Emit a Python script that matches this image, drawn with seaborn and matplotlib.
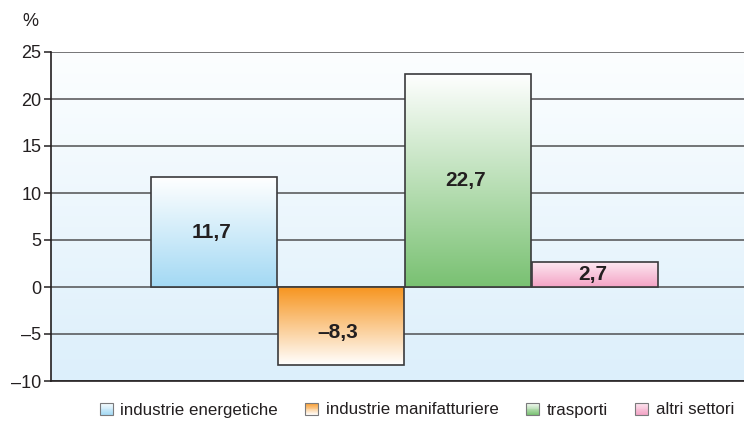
import numpy as np
import pandas as pd
import matplotlib
matplotlib.use("Agg")
import matplotlib.pyplot as plt
import matplotlib.colors as mcolors
from matplotlib.patches import Rectangle, Patch
from matplotlib.legend_handler import HandlerBase
import seaborn as sns

categories = ["industrie energetiche", "industrie manifatturiere", "trasporti", "altri settori"]
values = [11.7, -8.3, 22.7, 2.7]
value_labels = ["11,7", "–8,3", "22,7", "2,7"]
yticks = [-10, -5, 0, 5, 10, 15, 20, 25]
ytick_labels = ["–10", "–5", "0", "5", "10", "15", "20", "25"]
# gradient colours (top, bottom)
grads = [("#ffffff", "#a3d9f4"),
         ("#f7941d", "#ffffff"),
         ("#ffffff", "#79c172"),
         ("#fdeaf2", "#f3a3c5")]

sns.set_theme(style="white")
plt.rcParams["font.family"] = ["Liberation Sans", "DejaVu Sans"]
TXT = "#231f20"

fig = plt.figure(figsize=(7.44, 4.21), dpi=100)
ax = fig.add_axes([51/744, 40/421, 1 - 51/744, (381-52)/421])

df = pd.DataFrame({"cat": categories, "val": values})
sns.barplot(data=df, x="cat", y="val", order=categories, width=0.99,
            color="white", edgecolor="#3a3a3c", linewidth=1.2, ax=ax, zorder=3)

XL = (-1.278, 4.17)
YL = (-10, 25)

# background gradient
bg = np.linspace(0, 1, 256)[:, None]
c_top = np.array(mcolors.to_rgb("#fcfeff"))
c_bot = np.array(mcolors.to_rgb("#dceffb"))
bgimg = c_top[None, None, :] * (1 - bg[:, :, None]) + c_bot[None, None, :] * bg[:, :, None]
ax.imshow(bgimg, extent=[XL[0], XL[1], YL[0], YL[1]], origin="upper", aspect="auto", zorder=0)

# gradient fills for bars
for p, (ct, cb), lab in zip(ax.patches, grads, value_labels):
    x, y = p.get_x(), p.get_y()
    w, h = p.get_width(), p.get_height()
    y0, y1 = min(y, y + h), max(y, y + h)
    t = np.linspace(0, 1, 256)[:, None, None]
    a = np.array(mcolors.to_rgb(ct)); b = np.array(mcolors.to_rgb(cb))
    img = a * (1 - t) + b * t
    im = ax.imshow(img, extent=[x, x + w, y0, y1], origin="upper", aspect="auto", zorder=2.5)
    im.set_clip_path(p)
    p.set_facecolor("none")
    ymid = (y0 + y1) / 2 - (0.7 if h < 0 else 0)
    ax.text(x + w / 2 - 0.02, ymid, lab, ha="center", va="center",
            fontsize=15, fontweight="bold", color=TXT, zorder=5)

ax.set_xlim(*XL)
ax.set_ylim(*YL)
ax.set_yticks(yticks)
ax.set_yticklabels(ytick_labels)
ax.set_xticks([])
ax.set_xlabel("")
ax.set_ylabel("")
for yv in yticks:
    ax.axhline(yv, color="#505052", lw=1.1, zorder=1)
ax.tick_params(axis="y", which="major", left=True, length=5, width=1.1, color=TXT,
               pad=2, labelsize=13, labelcolor=TXT, direction="out")
for s in ["top", "right"]:
    ax.spines[s].set_visible(False)
ax.spines["left"].set_color(TXT)
ax.spines["left"].set_linewidth(1.2)
ax.spines["bottom"].set_color(TXT)
ax.spines["bottom"].set_linewidth(1.2)

fig.text(30/744, 1 - 21/421, "%", ha="center", va="center", fontsize=13, color=TXT)

class GradHandler(HandlerBase):
    def create_artists(self, legend, orig_handle, xdescent, ydescent, width, height, fontsize, trans):
        top, bot = orig_handle.grad
        a = np.array(mcolors.to_rgb(top)); b = np.array(mcolors.to_rgb(bot))
        n = 14
        arts = []
        for i in range(n):
            f = (i + 0.5) / n
            c = a * (1 - f) + b * f
            r = Rectangle((-xdescent, -ydescent + height * (1 - (i + 1) / n)), width, height / n,
                          facecolor=c, edgecolor="none", transform=trans)
            arts.append(r)
        arts.append(Rectangle((-xdescent, -ydescent), width, height, facecolor="none",
                              edgecolor="#7a7a7c", lw=0.8, transform=trans))
        return arts

handles = []
for g in grads:
    h = Patch(label="x")
    h.grad = g
    handles.append(h)
fig.legend(handles, categories, handler_map={Patch: GradHandler()}, loc="center",
           bbox_to_anchor=(417/744, 1 - 410/421), ncol=4, frameon=False,
           fontsize=12.2, handlelength=0.78, handleheight=0.72, handletextpad=0.45,
           columnspacing=1.6, labelcolor=TXT, borderpad=0.2)

fig.savefig("out.png", dpi=100)
